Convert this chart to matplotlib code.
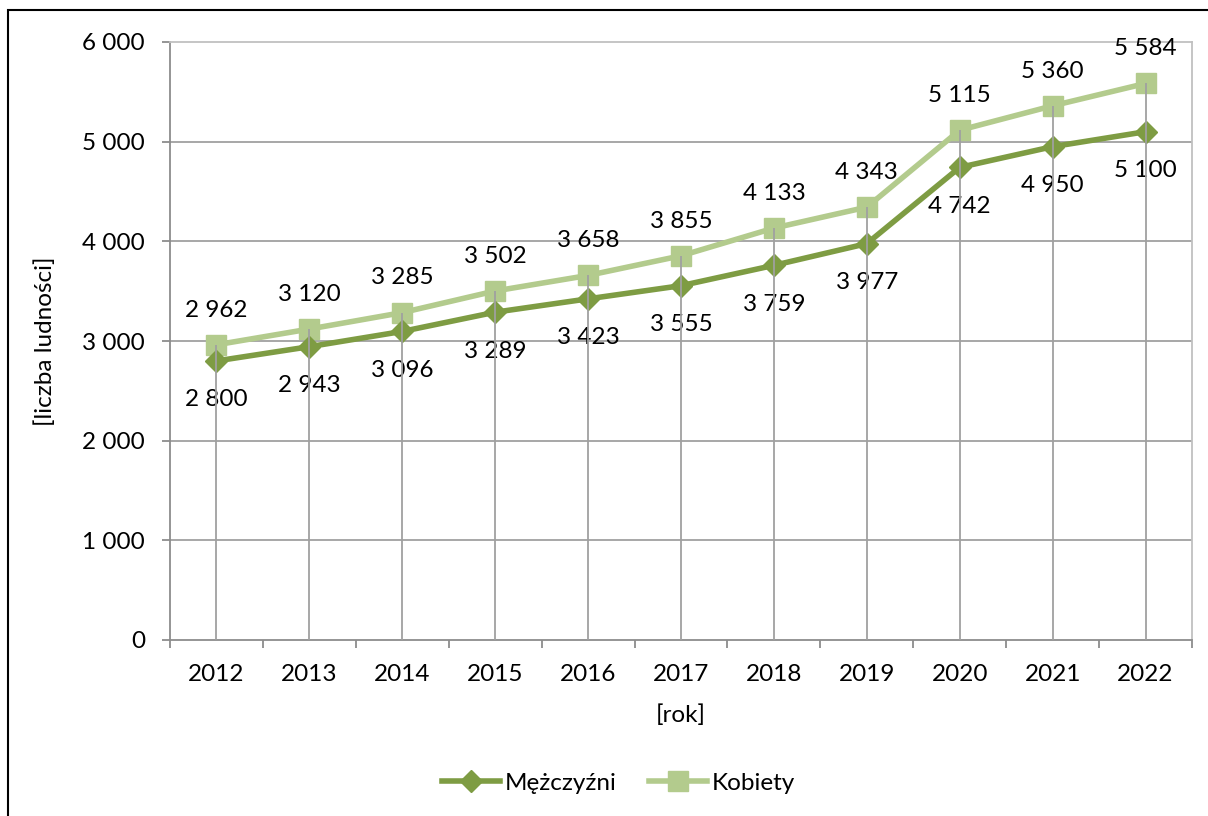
import matplotlib
matplotlib.use('Agg')
import matplotlib.pyplot as plt
from matplotlib.lines import Line2D
from matplotlib.patches import Rectangle
import numpy as np

years = ['2012', '2013', '2014', '2015', '2016', '2017', '2018', '2019', '2020', '2021', '2022']
men = [2800, 2943, 3096, 3289, 3423, 3555, 3759, 3977, 4742, 4950, 5100]
women = [2962, 3120, 3285, 3502, 3658, 3855, 4133, 4343, 5115, 5360, 5584]
y_ticks = [0, 1000, 2000, 3000, 4000, 5000, 6000]

c_men = '#7E9C43'
c_women = '#B3CB8D'
grid_c = '#A0A0A0'

plt.rcParams['font.family'] = ['Lato', 'DejaVu Sans']
fs = 17.5


def fmt(v):
    return f"{v:,}".replace(",", " ")


fig = plt.figure(figsize=(12.08, 8.16), dpi=100)
ax = fig.add_axes([170 / 1208, 1 - 640 / 816, (1192 - 170) / 1208, (640 - 42) / 816])

x = np.arange(len(years))

# horizontal gridlines
for t in y_ticks[1:-1]:
    ax.axhline(t, color=grid_c, lw=1.3, zorder=1)

ax.plot(x, women, color=c_women, lw=4, marker='s', markersize=15, zorder=3)
ax.plot(x, men, color=c_men, lw=4, marker='D', markersize=11, zorder=4)

# drop lines from the upper series down to the axis
ax.vlines(x, 0, women, color=grid_c, lw=1.3, zorder=5)

for xi, v in zip(x, women):
    ax.annotate(fmt(v), (xi, v), xytext=(0, 25), textcoords='offset points',
                ha='center', va='center', fontsize=fs)
for xi, v in zip(x, men):
    ax.annotate(fmt(v), (xi, v), xytext=(0, -28), textcoords='offset points',
                ha='center', va='center', fontsize=fs)

ax.set_xlim(-0.5, len(years) - 0.5)
ax.set_ylim(0, 6000)
ax.set_yticks(y_ticks)
ax.set_yticklabels([fmt(t) for t in y_ticks], fontsize=fs)
ax.set_xticks(x)
ax.set_xticklabels(years, fontsize=fs)
ax.set_xticks(np.arange(-0.5, len(years)), minor=True)
ax.tick_params(axis='x', which='major', length=0, pad=17)
ax.tick_params(axis='x', which='minor', length=6, color='#8C8C8C', width=1.3)
ax.tick_params(axis='y', length=6, color='#8C8C8C', width=1.3, pad=12)

for s in ['left', 'bottom']:
    ax.spines[s].set_color('#8C8C8C')
    ax.spines[s].set_linewidth(1.3)
for s in ['top', 'right']:
    ax.spines[s].set_color('#C0C0C0')
    ax.spines[s].set_linewidth(1.3)

ax.set_ylabel('[liczba ludności]', fontsize=fs, labelpad=19)
ax.set_xlabel('[rok]', fontsize=fs, labelpad=14)

handles = [
    Line2D([], [], color=c_men, lw=4, marker='D', markersize=11),
    Line2D([], [], color=c_women, lw=4, marker='s', markersize=15),
]
fig.legend(handles, ['Mężczyźni', 'Kobiety'], loc='center', bbox_to_anchor=(0.512, 1 - 783 / 816),
           ncol=2, frameon=False, fontsize=fs, handlelength=2.4, handletextpad=0.2, columnspacing=1.3)

# outer chart border (cut off at right and bottom)
fig.patches.append(Rectangle((8 / 1208, -0.1), 1.2, 1 - 10 / 816 + 0.1, transform=fig.transFigure,
                             fill=False, edgecolor='black', lw=1.5))

fig.savefig('out.png', dpi=100)
